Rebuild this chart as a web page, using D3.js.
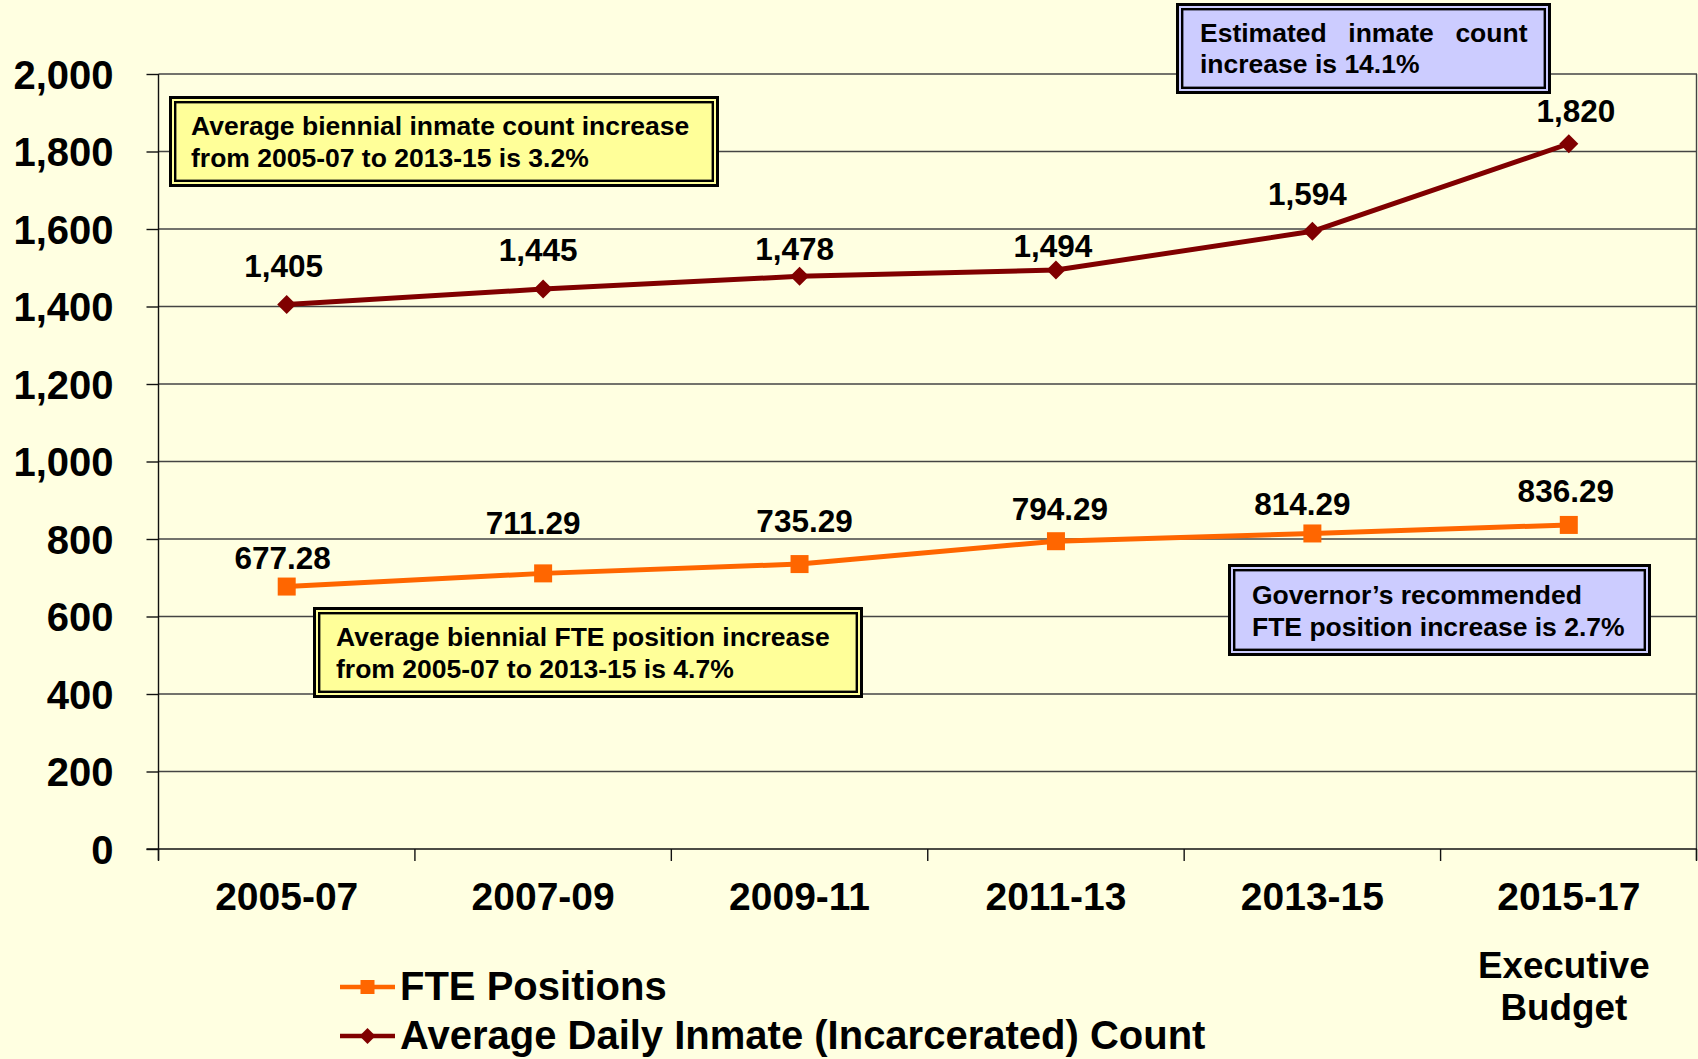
<!DOCTYPE html>
<html>
<head>
<meta charset="utf-8">
<script src="https://cdn.jsdelivr.net/npm/d3@7"></script>
<style>
  html, body { margin: 0; padding: 0; background: #FFFFE1; }
  svg { display: block; font-family: "Liberation Sans", Arial, sans-serif; font-weight: bold; }
</style>
</head>
<body>
<div id="chart-container"></div>
<script>
const categories = ["2005-07", "2007-09", "2009-11", "2011-13", "2013-15", "2015-17"];
const fteValues = [677.28, 711.29, 735.29, 794.29, 814.29, 836.29];
const inmateValues = [1405, 1445, 1478, 1494, 1594, 1820];
const yTicks = [0, 200, 400, 600, 800, 1000, 1200, 1400, 1600, 1800, 2000];
const seriesNames = ["FTE Positions", "Average Daily Inmate (Incarcerated) Count"];
const lastCategoryNote = ["Executive", "Budget"];
const notes = [
  { lines: ["Average biennial inmate count increase", "from 2005-07 to 2013-15 is 3.2%"], kind: "yellow" },
  { lines: ["Estimated inmate count", "increase is 14.1%"], kind: "blue", justifyFirst: true },
  { lines: ["Average biennial FTE position increase", "from 2005-07 to 2013-15 is 4.7%"], kind: "yellow" },
  { lines: ["Governor\u2019s recommended", "FTE position increase is 2.7%"], kind: "blue" }
];

// hand-placed label nudges, like the original slide (dx, dy above the point)
const inmateNudge = [[-3, 28], [-5, 28], [-5, 16], [-3, 13], [-5, 26], [7, 22]];
const fteNudge = [[-4, 18], [-10, 39], [5, 32], [4, 21], [-10, 18.5], [-3, 23]];
// note boxes: outer box [x0, y0, x1, y1], text x, first baseline, line step
const noteBoxes = [
  { box: [169, 96, 719, 187], tx: 191, ty: 135, step: 32, tx2: null },
  { box: [1176, 3, 1551, 94], tx: 1200, ty: 41.5, step: 31, tx2: 1527.5 },
  { box: [313, 607, 863, 698], tx: 336, ty: 645.5, step: 32.5, tx2: null },
  { box: [1228, 564, 1651, 656], tx: 1252, ty: 604, step: 32, tx2: null }
];

const W = 1698, H = 1059;
const plot = { left: 158.5, right: 1697, top: 74, bottom: 849 };
const fteColor = "#FF6600", inmateColor = "#800000";
const gridColor = "#444";
const noteFont = 26.5;

const svg = d3.select("#chart-container").append("svg")
  .attr("width", W).attr("height", H);

svg.append("rect").attr("width", W).attr("height", H).attr("fill", "#FFFFE1");

const x = d3.scaleBand().domain(categories).range([plot.left, plot.right]);
const y = d3.scaleLinear().domain([0, 2000]).range([plot.bottom, plot.top]);
const cx = (c) => x(c) + x.bandwidth() / 2;

// gridlines
svg.append("g").selectAll("line")
  .data(yTicks.filter((d) => d > 0))
  .join("line")
  .attr("x1", plot.left).attr("x2", plot.right)
  .attr("y1", (d) => y(d)).attr("y2", (d) => y(d))
  .attr("stroke", gridColor).attr("stroke-width", 1.4);

// right border
svg.append("line")
  .attr("x1", plot.right - 0.5).attr("x2", plot.right - 0.5)
  .attr("y1", plot.top).attr("y2", plot.bottom + 11)
  .attr("stroke", gridColor).attr("stroke-width", 1.4);

// y axis
const yAxis = svg.append("g")
  .attr("transform", `translate(${plot.left},0)`)
  .call(d3.axisLeft(y).tickValues(yTicks).tickSize(12).tickPadding(33).tickFormat(d3.format(",")));
yAxis.select(".domain").attr("stroke", "#111").attr("stroke-width", 1.4)
  .attr("d", `M0,${plot.top}V${plot.bottom + 11}`);
yAxis.selectAll(".tick line").attr("stroke", "#111").attr("stroke-width", 1.4);
yAxis.selectAll(".tick text")
  .attr("fill", "#000").attr("font-size", 40).attr("font-weight", "bold")
  .attr("font-family", "'Liberation Sans', Arial, sans-serif").attr("dy", "0.36em");

// x axis
const xAxis = svg.append("g")
  .attr("transform", `translate(0,${plot.bottom})`)
  .call(d3.axisBottom(x).tickSize(0).tickPadding(33));
xAxis.select(".domain").attr("stroke", "#111").attr("stroke-width", 1.4)
  .attr("d", `M${plot.left - 12},0H${plot.right}`);
xAxis.selectAll(".tick text")
  .attr("fill", "#000").attr("font-size", 39).attr("font-weight", "bold")
  .attr("font-family", "'Liberation Sans', Arial, sans-serif");

// boundary ticks between categories
svg.append("g").selectAll("line")
  .data(categories.concat(["end"]))
  .join("line")
  .attr("x1", (d, i) => i < categories.length ? x(d) : plot.right - 0.5)
  .attr("x2", (d, i) => i < categories.length ? x(d) : plot.right - 0.5)
  .attr("y1", plot.bottom).attr("y2", plot.bottom + 12)
  .attr("stroke", "#111").attr("stroke-width", 1.4);

// "Executive Budget" under last category
svg.append("g").selectAll("text")
  .data(lastCategoryNote)
  .join("text")
  .attr("x", cx(categories[5]) - 5)
  .attr("y", (d, i) => 978 + i * 42)
  .attr("text-anchor", "middle")
  .attr("font-size", 36.8)
  .text((d) => d);

// lines
const fteData = categories.map((c, i) => ({ c, v: fteValues[i] }));
const inmateData = categories.map((c, i) => ({ c, v: inmateValues[i] }));
const line = d3.line().x((d) => cx(d.c)).y((d) => y(d.v));

svg.append("path").datum(inmateData)
  .attr("fill", "none").attr("stroke", inmateColor).attr("stroke-width", 5)
  .attr("stroke-linejoin", "round").attr("d", line);

svg.append("path").datum(fteData)
  .attr("fill", "none").attr("stroke", fteColor).attr("stroke-width", 5)
  .attr("stroke-linejoin", "round").attr("d", line);

const diamond = (s) => `M0,${-s}L${s},0L0,${s}L${-s},0Z`;

svg.append("g").selectAll("path")
  .data(inmateData)
  .join("path")
  .attr("transform", (d) => `translate(${cx(d.c)},${y(d.v)})`)
  .attr("d", diamond(9.5))
  .attr("fill", inmateColor);

svg.append("g").selectAll("rect")
  .data(fteData)
  .join("rect")
  .attr("x", (d) => cx(d.c) - 9).attr("y", (d) => y(d.v) - 9)
  .attr("width", 18).attr("height", 18)
  .attr("fill", fteColor);

// value labels
svg.append("g").selectAll("text")
  .data(inmateData)
  .join("text")
  .attr("x", (d, i) => cx(d.c) + inmateNudge[i][0])
  .attr("y", (d, i) => y(d.v) - inmateNudge[i][1])
  .attr("text-anchor", "middle").attr("font-size", 31.5)
  .text((d) => d3.format(",")(d.v));

svg.append("g").selectAll("text")
  .data(fteData)
  .join("text")
  .attr("x", (d, i) => cx(d.c) + fteNudge[i][0])
  .attr("y", (d, i) => y(d.v) - fteNudge[i][1])
  .attr("text-anchor", "middle").attr("font-size", 31.5)
  .text((d) => d3.format(".2f")(d.v));

// note boxes
notes.forEach((n, k) => {
  const nb = noteBoxes[k];
  const [x0, y0, x1, y1] = nb.box;
  const fill = n.kind === "yellow" ? "#FFFF99" : "#CCCCFF";
  const g = svg.append("g");
  g.append("rect")
    .attr("x", x0 + 1.5).attr("y", y0 + 1.5)
    .attr("width", x1 - x0 - 3).attr("height", y1 - y0 - 3)
    .attr("fill", fill).attr("stroke", "#000").attr("stroke-width", 3);
  g.append("rect")
    .attr("x", x0 + 6.2).attr("y", y0 + 6.2)
    .attr("width", x1 - x0 - 12.4).attr("height", y1 - y0 - 12.4)
    .attr("fill", "none").attr("stroke", "#000").attr("stroke-width", 2.4);

  n.lines.forEach((ln, j) => {
    const by = nb.ty + j * nb.step;
    if (j === 0 && n.justifyFirst && nb.tx2) {
      // justified first line: spread words across the box width
      const words = ln.split(" ");
      const ts = words.map((w) => g.append("text").attr("y", by).attr("font-size", noteFont).text(w));
      const widths = ts.map((t) => t.node().getComputedTextLength());
      const gap = (nb.tx2 - nb.tx - d3.sum(widths)) / (words.length - 1);
      let xp = nb.tx;
      ts.forEach((t, i) => { t.attr("x", xp); xp += widths[i] + gap; });
    } else {
      g.append("text").attr("x", nb.tx).attr("y", by).attr("font-size", noteFont).text(ln);
    }
  });
});

// legend
const legend = svg.append("g");
const legendRows = [
  { name: seriesNames[0], color: fteColor, shape: "square", ly: 987, ty: 1000 },
  { name: seriesNames[1], color: inmateColor, shape: "diamond", ly: 1036, ty: 1049 }
];
legendRows.forEach((r) => {
  legend.append("line")
    .attr("x1", 340).attr("x2", 395).attr("y1", r.ly).attr("y2", r.ly)
    .attr("stroke", r.color).attr("stroke-width", 4.5);
  if (r.shape === "square") {
    legend.append("rect").attr("x", 360.5).attr("y", r.ly - 7)
      .attr("width", 14).attr("height", 14).attr("fill", r.color);
  } else {
    legend.append("path").attr("transform", `translate(367.5,${r.ly})`)
      .attr("d", diamond(8)).attr("fill", r.color);
  }
  legend.append("text").attr("x", 400).attr("y", r.ty)
    .attr("font-size", 40).text(r.name);
});
</script>
</body>
</html>
